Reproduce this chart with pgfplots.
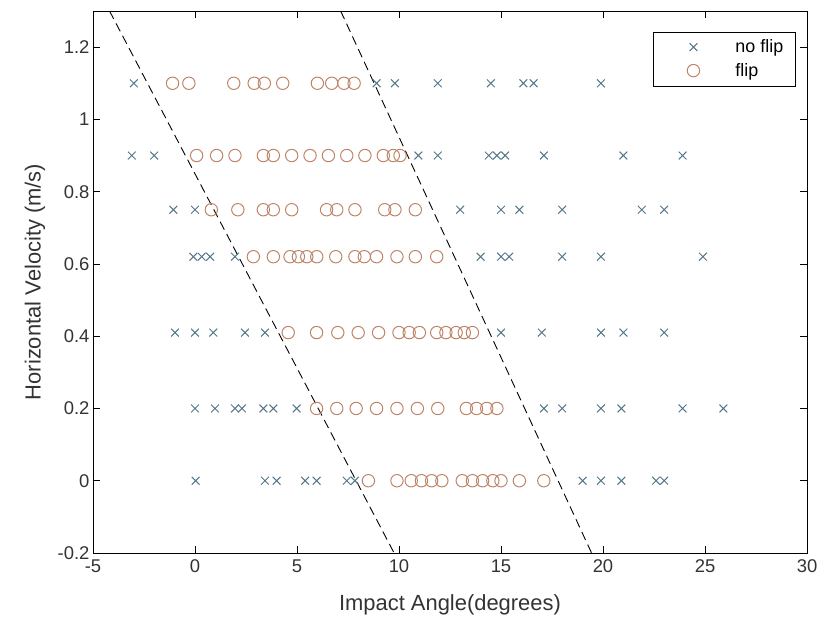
\documentclass[border=0pt]{standalone}
\usepackage{pgfplots}
\pgfplotsset{compat=1.18}
\usepackage{fontspec}
\setmainfont{Liberation Sans}

\definecolor{noflipc}{RGB}{84,118,138}
\definecolor{flipc}{RGB}{190,132,104}

\begin{document}
\begin{tikzpicture}[x=1bp,y=1bp]
\begin{axis}[
  name=main,
  scale only axis,
  width=714bp, height=542bp,
  xmin=-5, xmax=30, ymin=-0.2, ymax=1.3,
  xtick={-5,0,...,30},
  ytick={-0.2,0,0.2,...,1.2},
  yticklabels={-0.2,0,0.2,0.4,0.6,0.8,1,1.2},
  tick align=inside,
  major tick length=7bp,
  tick style={black, line width=0.6pt},
  axis line style={black, line width=0.7pt},
  /pgf/number format/assume math mode=true,
  ticklabel style={font=\fontsize{18.5}{21}\selectfont, text=black!80},
  xticklabel style={yshift=-3bp},
  xlabel={Impact Angle(degrees)},
  ylabel={Horizontal Velocity (m/s)},
  every axis x label/.style={at={(axis description cs:0.5,0)}, anchor=center, yshift=-52bp},
  every axis y label/.style={at={(axis description cs:0,0.5)}, anchor=center, rotate=90, yshift=58bp},
  label style={font=\fontsize{22}{24}\selectfont, text=black!80},
  legend style={at={(0.984,0.962)}, anchor=north east, draw=black, line width=0.6pt,
    font=\fontsize{18}{20}\selectfont, row sep=5bp, column sep=30bp,
    inner xsep=10bp, inner ysep=6bp},
  legend image code/.code={%
    \path[draw=none] (0bp,0bp) (40bp,0bp);
    \draw[#1] plot coordinates {(30bp,0bp)};},
  legend cell align=left,
  clip=true,
]
% runs without a flip
\addplot[only marks, mark=x, mark size=5.5bp, mark options={line width=1pt}, noflipc] table[row sep=\\] {
x y\\
-3 1.1\\ 8.9 1.1\\ 9.8 1.1\\ 11.9 1.1\\ 14.5 1.1\\ 16.1 1.1\\ 16.6 1.1\\ 19.9 1.1\\
-3.1 0.9\\ -2.0 0.9\\ 10.95 0.9\\ 11.9 0.9\\ 14.4 0.9\\ 14.8 0.9\\ 15.2 0.9\\ 17.1 0.9\\ 21.0 0.9\\ 23.9 0.9\\
-1.06 0.75\\ 0.0 0.75\\ 13.0 0.75\\ 15.0 0.75\\ 15.9 0.75\\ 18.0 0.75\\ 21.9 0.75\\ 23.0 0.75\\
-0.08 0.62\\ 0.33 0.62\\ 0.74 0.62\\ 1.96 0.62\\ 14.0 0.62\\ 15.0 0.62\\ 15.4 0.62\\ 18.0 0.62\\ 19.9 0.62\\ 24.9 0.62\\
-0.98 0.41\\ 0 0.41\\ 0.9 0.41\\ 2.45 0.41\\ 3.43 0.41\\ 15.0 0.41\\ 17.0 0.41\\ 19.9 0.41\\ 21.0 0.41\\ 23.0 0.41\\
0 0.2\\ 0.98 0.2\\ 1.96 0.2\\ 2.3 0.2\\ 3.35 0.2\\ 3.84 0.2\\ 4.98 0.2\\ 17.1 0.2\\ 18.0 0.2\\ 19.9 0.2\\ 20.9 0.2\\ 23.9 0.2\\ 25.9 0.2\\
0.03 0\\ 3.43 0\\ 4.0 0\\ 5.4 0\\ 5.96 0\\ 7.44 0\\ 7.84 0\\ 19.0 0\\ 19.9 0\\ 20.9 0\\ 22.6 0\\ 23.0 0\\
};
\addlegendentry{no flip}
% runs that flipped
\addplot[only marks, mark=o, mark size=6.2bp, mark options={line width=1pt}, flipc] table[row sep=\\] {
x y\\
-1.1 1.1\\ -0.3 1.1\\ 1.9 1.1\\ 2.9 1.1\\ 3.4 1.1\\ 4.3 1.1\\ 6.0 1.1\\ 6.7 1.1\\ 7.3 1.1\\ 7.8 1.1\\
0.08 0.9\\ 1.06 0.9\\ 1.96 0.9\\ 3.35 0.9\\ 3.84 0.9\\ 4.74 0.9\\ 5.64 0.9\\ 6.54 0.9\\ 7.44 0.9\\ 8.33 0.9\\ 9.23 0.9\\ 9.72 0.9\\ 10.05 0.9\\
0.8 0.75\\ 2.1 0.75\\ 3.35 0.75\\ 3.84 0.75\\ 4.74 0.75\\ 6.45 0.75\\ 6.95 0.75\\ 7.84 0.75\\ 9.3 0.75\\ 9.8 0.75\\ 10.8 0.75\\
2.86 0.62\\ 3.84 0.62\\ 4.66 0.62\\ 5.07 0.62\\ 5.48 0.62\\ 5.97 0.62\\ 6.9 0.62\\ 7.84 0.62\\ 8.3 0.62\\ 8.9 0.62\\ 9.9 0.62\\ 10.8 0.62\\ 11.85 0.62\\
4.57 0.41\\ 5.96 0.41\\ 7.0 0.41\\ 8.0 0.41\\ 9.0 0.41\\ 10.0 0.41\\ 10.5 0.41\\ 11.0 0.41\\ 11.85 0.41\\ 12.3 0.41\\ 12.8 0.41\\ 13.2 0.41\\ 13.6 0.41\\
5.96 0.2\\ 6.95 0.2\\ 7.9 0.2\\ 8.9 0.2\\ 9.9 0.2\\ 10.9 0.2\\ 11.9 0.2\\ 13.3 0.2\\ 13.8 0.2\\ 14.3 0.2\\ 14.8 0.2\\
8.5 0\\ 9.9 0\\ 10.6 0\\ 11.1 0\\ 11.6 0\\ 12.1 0\\ 13.1 0\\ 13.6 0\\ 14.1 0\\ 14.6 0\\ 15.0 0\\ 15.9 0\\ 17.1 0\\
};
\addlegendentry{flip}
% boundaries between the two regimes
\addplot[black, line width=0.9pt, dash pattern=on 9bp off 5bp, forget plot] coordinates {(-4.19,1.3) (9.76,-0.2)};
\addplot[black, line width=0.9pt, dash pattern=on 9bp off 5bp, forget plot] coordinates {(7.14,1.3) (19.44,-0.2)};
\end{axis}
\pgfresetboundingbox
\path[use as bounding box] ([shift={(-93bp,-75bp)}]main.south west) rectangle ([shift={(13bp,11bp)}]main.north east);
\end{tikzpicture}
\end{document}
